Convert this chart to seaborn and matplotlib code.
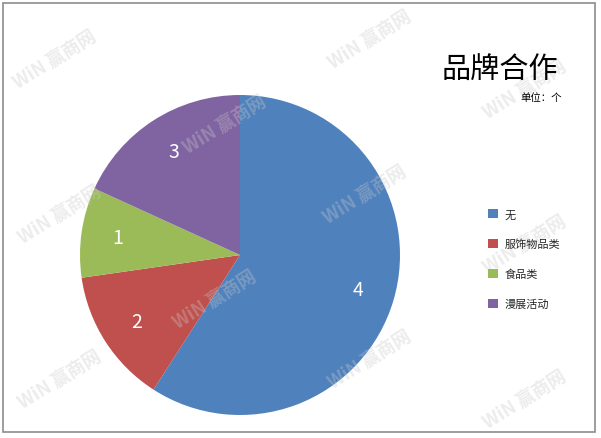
import matplotlib
matplotlib.use("Agg")
import matplotlib.pyplot as plt
from matplotlib.patches import Patch, Rectangle
import seaborn as sns

# data
categories = ["无", "服饰物品类", "食品类", "漫展活动"]
slice_shares = [13, 3, 2, 4]          # slice sizes as drawn
shown_labels = ["4", "2", "1", "3"]   # numbers written on the slices
colors = ["#4F81BD", "#C0504D", "#9BBB59", "#8064A2"]

sns.set_theme(style="white")
plt.rcParams["font.family"] = ["Noto Sans CJK SC", "DejaVu Sans"]

fig = plt.figure(figsize=(6.01, 4.39), dpi=100, facecolor="white")

# outer chart frame
fig.patches.append(Rectangle((3 / 601, 1 - 433 / 439), 592 / 601, 429 / 439,
                             transform=fig.transFigure, fill=False,
                             edgecolor="#8c8c8c", linewidth=1.2))

ax = fig.add_axes([80 / 601, 23 / 439, 320 / 601, 320 / 439])
wedges, texts = ax.pie(slice_shares, labels=shown_labels, colors=colors,
                       startangle=90, counterclock=False, labeldistance=0.77,
                       textprops=dict(color="white", fontsize=14, ha="center", va="center"),
                       wedgeprops=dict(linewidth=0))
ax.set_xlim(-1, 1)
ax.set_ylim(-1, 1)
ax.set_axis_off()

# faint watermarks
wm_pos = [(55, 60), (370, 40), (225, 125), (525, 90), (60, 215), (365, 195),
          (525, 245), (215, 300), (60, 380), (370, 360), (525, 400)]
for x, y in wm_pos:
    fig.text(x / 601, 1 - y / 439, "WiN 赢商网", fontsize=13, color="#c8c8c8",
             alpha=0.35, rotation=32, ha="center", va="center", fontweight="bold")

fig.text(500 / 601, 1 - 70 / 439, "品牌合作", fontsize=21, ha="center", va="center",
         color="black")
fig.text(562 / 601, 1 - 98 / 439, "单位：个", fontsize=7.5, ha="right", va="center",
         color="black")

handles = [Patch(facecolor=c, edgecolor="none") for c in colors]
fig.legend(handles, categories, loc="upper left", bbox_to_anchor=(478 / 601, 1 - 200 / 439),
           frameon=False, fontsize=8, handlelength=0.9, handleheight=0.9,
           handletextpad=0.6, labelspacing=1.75)

fig.savefig("out.png", dpi=100, facecolor="white")
